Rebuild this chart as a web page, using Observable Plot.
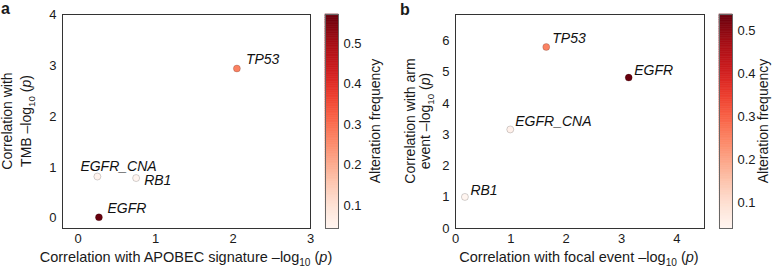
<!DOCTYPE html>
<html><head><meta charset="utf-8">
<script src="https://cdn.jsdelivr.net/npm/d3@7"></script>
<script src="https://cdn.jsdelivr.net/npm/@observablehq/plot@0.6"></script>
<style>
body{margin:0;background:#fff;}
#chart{position:relative;width:777px;height:268px;overflow:hidden;}
#chart svg{position:absolute;top:0;overflow:visible;}
</style></head><body><div id="chart"></div>
<script>
// ---- data ----
const genesA = ["TP53", "EGFR_CNA", "RB1", "EGFR"];
const apobecA = [2.05, 0.25, 0.75, 0.27];
const tmbA = [2.94, 0.82, 0.79, 0.02];
const freqA = [0.27, 0.05, 0.043, 0.572];
const freqDomainA = [0.043, 0.572];

const genesB = ["TP53", "EGFR", "EGFR_CNA", "RB1"];
const focalB = [1.64, 3.13, 0.99, 0.17];
const armB = [5.81, 4.83, 3.17, 1.01];
const freqB = [0.25, 0.539, 0.05, 0.039];
const freqDomainB = [0.039, 0.539];

const xTicksA = [0, 1, 2, 3];
const yTicksA = [0, 1, 2, 3, 4];
const xTicksB = [0, 1, 2, 3, 4];
const yTicksB = [0, 1, 2, 3, 4, 5, 6];
const freqTicks = [0.1, 0.2, 0.3, 0.4, 0.5];

// ---- styling / layout ----
const FONT = '"Liberation Sans", Arial, Helvetica, sans-serif';
const labelOffsetsA = {TP53: [9, -9], EGFR_CNA: [-17, -10.5], RB1: [8, 2.5], EGFR: [8.5, -9]};
const labelOffsetsB = {TP53: [6, -8], EGFR: [5.5, -7], EGFR_CNA: [5, -8], RB1: [5.5, -6]};
const chart = document.getElementById("chart");
const intFmt = d => String(d);

function scatter(o) {
  const data = o.genes.map((g, i) => ({gene: g, x: o.xs[i], y: o.ys[i], f: o.freqs[i]}));
  const svg = Plot.plot({
    width: o.width, height: 268,
    marginLeft: o.ml, marginRight: o.mr, marginTop: 14, marginBottom: 40,
    x: {domain: o.xdom}, y: {domain: o.ydom},
    color: {type: "linear", scheme: "reds", domain: o.fdom},
    style: {fontFamily: FONT, fontSize: "13px", color: "#1a1a1a", background: "transparent"},
    marks: [
      Plot.frame({stroke: "#333", strokeWidth: 1}),
      Plot.axisX({ticks: o.xticks, tickFormat: intFmt, tickSize: 0, tickPadding: 5, label: null, fontSize: 13}),
      Plot.axisY({ticks: o.yticks, tickFormat: intFmt, tickSize: 0, tickPadding: 6, label: null, fontSize: 13}),
      Plot.dot(data, {x: "x", y: "y", fill: "f", r: 3.5, stroke: "#000", strokeOpacity: 0.22, strokeWidth: 0.8}),
      ...o.genes.map(g => Plot.text(data.filter(d => d.gene === g), {
        x: "x", y: "y", text: "gene", textAnchor: "start",
        dx: o.offsets[g][0], dy: o.offsets[g][1],
        fontStyle: "italic", fontSize: 14, fill: "#111"
      }))
    ]
  });
  svg.style.left = o.left + "px";
  chart.appendChild(svg);
}

function colorbar(o) {
  const n = 120;
  const step = (o.fdom[1] - o.fdom[0]) / n;
  const bands = d3.range(n).map(i => ({v0: o.fdom[0] + i * step, v1: o.fdom[0] + (i + 1) * step}));
  const svg = Plot.plot({
    width: o.width, height: 268,
    marginLeft: o.ml, marginRight: o.mr, marginTop: 14, marginBottom: 40,
    x: {domain: [0, 1], axis: null}, y: {domain: o.fdom, axis: null},
    color: {type: "linear", scheme: "reds", domain: o.fdom},
    style: {fontFamily: FONT, fontSize: "13px", color: "#1a1a1a", background: "transparent"},
    marks: [
      Plot.rect(bands, {x1: 0, x2: 1, y1: "v0", y2: "v1", fill: d => (d.v0 + d.v1) / 2, stroke: d => (d.v0 + d.v1) / 2, strokeWidth: 0.6}),
      Plot.frame({stroke: "#666", strokeWidth: 1}),
      Plot.axisY({anchor: "right", ticks: freqTicks, tickFormat: ".1f", tickSize: 0, tickPadding: 5, label: null, fontSize: 13})
    ]
  });
  svg.style.left = o.left + "px";
  chart.appendChild(svg);
}

scatter({genes: genesA, xs: apobecA, ys: tmbA, freqs: freqA, fdom: freqDomainA,
  xdom: [-0.2, 3], ydom: [-0.2, 4], xticks: xTicksA, yticks: yTicksA,
  left: 0, width: 320, ml: 62, mr: 10, offsets: labelOffsetsA});
colorbar({fdom: freqDomainA, left: 300, width: 80, ml: 25, mr: 42});
scatter({genes: genesB, xs: focalB, ys: armB, freqs: freqB, fdom: freqDomainB,
  xdom: [0, 4.5], ydom: [0, 6.85], xticks: xTicksB, yticks: yTicksB,
  left: 388, width: 320, ml: 67, mr: 4, offsets: labelOffsetsB});
colorbar({fdom: freqDomainB, left: 694, width: 83, ml: 25, mr: 45});

// ---- overlay text: panel letters and axis titles (with subscripts) ----
const ov = d3.select(chart).append("svg")
  .attr("width", 777).attr("height", 268).style("left", "0px")
  .attr("font-family", FONT).attr("fill", "#1a1a1a");

function title(x, y, rot, parts, size) {
  const t = ov.append("text").attr("text-anchor", "middle").attr("font-size", size)
    .attr("transform", `translate(${x},${y}) rotate(${rot})`);
  for (const [s, kind] of parts) {
    const ts = t.append("tspan").text(s);
    if (kind === "sub") ts.attr("font-size", size * 0.7).attr("dy", 3.5);
    if (kind === "after") ts.attr("dy", -3.5);
    if (kind === "it") ts.attr("font-style", "italic");
  }
}
const logp = [["–log", ""], ["10", "sub"], [" (", "after"], ["p", "it"], [")", ""]];

ov.append("text").attr("x", 1).attr("y", 14).attr("font-size", 16).attr("font-weight", "bold").text("a");
ov.append("text").attr("x", 400).attr("y", 15).attr("font-size", 16).attr("font-weight", "bold").text("b");

title(12, 121, -90, [["Correlation with", ""]], 14);
title(31, 121, -90, [["TMB ", ""], ...logp], 14);
title(186, 262, 0, [["Correlation with APOBEC signature ", ""], ...logp], 14.5);
title(380, 121, -90, [["Alteration frequency", ""]], 14);

title(415, 121, -90, [["Correlation with arm", ""]], 14);
title(430, 121, -90, [["event ", ""], ...logp], 14);
title(579, 262, 0, [["Correlation with focal event ", ""], ...logp], 14.5);
title(768, 121, -90, [["Alteration frequency", ""]], 14);
</script></body></html>
